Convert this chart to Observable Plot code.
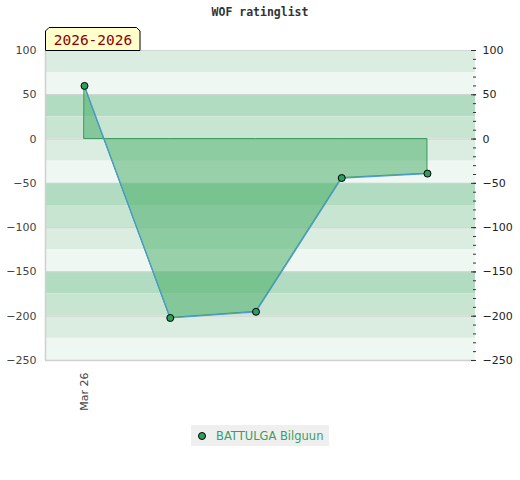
<!DOCTYPE html>
<html><head><meta charset="utf-8">
<script src="https://cdn.jsdelivr.net/npm/d3@7"></script>
<script src="https://cdn.jsdelivr.net/npm/@observablehq/plot@0.6"></script>
<style>
body{margin:0;background:#fff;}
#wrap{position:relative;width:520px;height:480px;font-family:"DejaVu Sans",sans-serif;}
#title{position:absolute;left:0;top:5px;width:520px;text-align:center;font-family:"DejaVu Sans Mono",monospace;font-weight:bold;font-size:11.5px;color:#333;}
#chart{position:absolute;left:0;top:0;}
#period{position:absolute;left:45px;top:27px;}
#legend{position:absolute;left:191px;top:425px;width:138px;height:21px;background:#efefef;}
#legend svg{position:absolute;left:6px;top:6px;}
#legend span{position:absolute;left:25px;top:4px;font-size:11.5px;color:#3a9e5e;white-space:nowrap;}
</style></head>
<body>
<div id="wrap">
  <div id="chart"></div>
  <div id="title">WOF ratinglist</div>
  <svg id="period" width="96" height="24">
    <path d="M0.5,23.5 L0.5,4 L4,0.5 L91.5,0.5 L95,4 L95,23.5 Z" fill="#ffffcc" stroke="#000" stroke-width="1"/>
    <text x="48" y="17.5" text-anchor="middle" font-family="DejaVu Sans Mono, monospace" font-size="14.5" fill="#8b0000">2026-2026</text>
  </svg>
  <div id="legend">
    <svg width="10" height="10"><circle cx="5" cy="5" r="3.5" fill="#2e9e5b" stroke="#000" stroke-width="1"/></svg>
    <span>BATTULGA Bilguun</span>
  </div>
</div>
<script>
// data
const player = "BATTULGA Bilguun";
const games = [0, 1, 2, 3, 4];
const ratingValues = [60, -202, -195, -44, -39];
const xTickPositions = [0];
const xTickLabels = ["Mar 26"];
const yTicks = [100, 50, 0, -50, -100, -150, -200, -250];
const bandTops = [100, 75, 50, 25, 0, -25, -50, -75, -100, -125, -150, -175, -200, -225];
const bandColors = ["#dbede1", "#eef7f1", "#b2dcc1", "#c8e5d2"];

const data = games.map((g, i) => ({g, v: ratingValues[i]}));
const bands = bandTops.map((t, i) => ({y2: t, y1: t - 25, c: bandColors[i % 4]}));
const minorTicks = d3.range(-250, 101, 10);
const xDomain = [-0.455, 4.56];

const chart = Plot.plot({
  width: 520,
  height: 420,
  marginTop: 50,
  marginBottom: 60,
  marginLeft: 45,
  marginRight: 45,
  style: {fontFamily: "DejaVu Sans, sans-serif", fontSize: "11px", background: "transparent"},
  x: {type: "linear", domain: xDomain},
  y: {domain: [-250, 100]},
  marks: [
    Plot.rect(bands, {y1: "y1", y2: "y2", fill: "c"}),
    Plot.ruleY(yTicks.slice(1, -1), {stroke: "#d2d2d2", strokeWidth: 1}),
    Plot.ruleY([100], {stroke: "#d6d6d6"}),
    Plot.ruleY([-250], {stroke: "#d0d0d0", strokeWidth: 1.5}),
    Plot.ruleX([xDomain[0]], {stroke: "#d0d0d0", strokeWidth: 1.5}),
    Plot.areaY(data, {x: "g", y: "v", fill: "#40aa62", fillOpacity: 0.5, stroke: "#3a9a5b", strokeWidth: 1}),
    Plot.lineY(data, {x: "g", y: "v", stroke: "#4a9ad8", strokeWidth: 1.2}),
    Plot.dot(data, {x: "g", y: "v", r: 3.5, fill: "#2e9e5b", stroke: "#000", strokeWidth: 1}),
    Plot.axisY({anchor: "left", ticks: yTicks, tickSize: 0, tickPadding: 9, fill: "#444", label: null}),
    Plot.axisY({anchor: "right", ticks: minorTicks, tickSize: -3, text: null, stroke: "#333", label: null}),
    Plot.axisY({anchor: "right", ticks: yTicks, tickSize: -5, tickPadding: 12, fill: "#222", stroke: "#333", label: null}),
    Plot.axisX({ticks: xTickPositions, tickFormat: (d, i) => xTickLabels[xTickPositions.indexOf(d)], tickRotate: -90, tickSize: 0, tickPadding: 12, fill: "#444", label: null})
  ]
});
document.getElementById("chart").appendChild(chart);
</script>
</body></html>
